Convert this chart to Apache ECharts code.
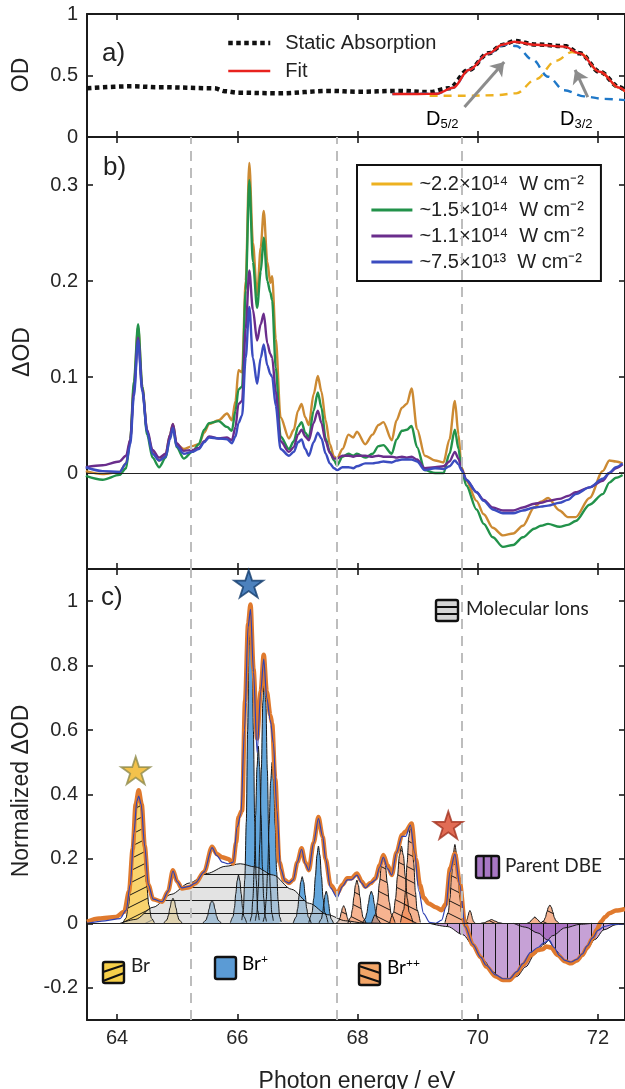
<!DOCTYPE html>
<html>
<head>
<meta charset="utf-8">
<script src="https://cdn.jsdelivr.net/npm/echarts@6/dist/echarts.min.js"></script>
<style>
  html, body { margin: 0; padding: 0; background: #fff; }
  #chart { width: 625px; height: 1089px; }
</style>
</head>
<body>
<div id="chart"></div>
<script>
// ---- axes / ticks ----
const xTicks = [64, 66, 68, 70, 72];
const odTicks = [0, 0.5, 1];
const dodTicks = [0, 0.1, 0.2, 0.3];
const normTicks = [-0.2, 0, 0.2, 0.4, 0.6, 0.8, 1];
const regionEdges = [65.23, 67.66, 69.73];

// ---- panel a: static absorption ----
const staticEnergy = [63.5, 64.24, 64.7, 65.62, 65.79, 66.02, 66.68, 67.54, 68.0, 68.67, 69.19, 69.52, 69.85, 70.18, 70.41, 70.61, 70.97, 71.44, 71.7, 72.03, 72.36, 72.45];
const staticOD = [0.396, 0.412, 0.405, 0.396, 0.372, 0.36, 0.355, 0.375, 0.368, 0.375, 0.365, 0.396, 0.546, 0.68, 0.748, 0.78, 0.752, 0.74, 0.68, 0.53, 0.405, 0.38];
const fitEnergy = [68.58, 69.0, 69.32, 69.59, 69.85, 70.18, 70.41, 70.61, 70.97, 71.44, 71.7, 72.03, 72.36, 72.45];
const fitOD = [0.35, 0.35, 0.352, 0.4, 0.545, 0.68, 0.75, 0.775, 0.75, 0.735, 0.68, 0.53, 0.4, 0.37];
const d52 = [[68.58, 0.35], [69.32, 0.352], [69.59, 0.4], [69.85, 0.545], [70.18, 0.68], [70.45, 0.75], [70.64, 0.74], [70.91, 0.63], [71.17, 0.49], [71.44, 0.38], [71.77, 0.33], [72.1, 0.31], [72.45, 0.3]];
const d32 = [[69.2, 0.335], [69.8, 0.335], [70.3, 0.34], [70.64, 0.355], [70.97, 0.47], [71.3, 0.62], [71.57, 0.69], [71.7, 0.68], [72.03, 0.53], [72.36, 0.4], [72.45, 0.37]];

// ---- panel b: delta OD for four intensities ----
const energyB = [63.48, 63.76, 64.04, 64.15, 64.22, 64.28, 64.35, 64.42, 64.5, 64.59, 64.7, 64.81, 64.88, 64.93, 64.99, 65.11, 65.25, 65.36, 65.45, 65.53, 65.69, 65.83, 65.91, 65.97, 66.02, 66.08, 66.14, 66.2, 66.26, 66.33, 66.39, 66.44, 66.5, 66.55, 66.58, 66.64, 66.72, 66.86, 66.94, 67.01, 67.07, 67.13, 67.19, 67.27, 67.34, 67.4, 67.47, 67.54, 67.61, 67.66, 67.75, 67.85, 67.93, 67.99, 68.13, 68.25, 68.35, 68.43, 68.57, 68.65, 68.74, 68.82, 68.9, 68.99, 69.12, 69.29, 69.43, 69.53, 69.62, 69.68, 69.73, 69.81, 69.98, 70.1, 70.25, 70.42, 70.59, 70.75, 70.94, 71.05, 71.17, 71.36, 71.5, 71.63, 71.86, 72.08, 72.19, 72.3, 72.41];
const dod22 = [0.002, -0.001, 0.001, 0.01, 0.035, 0.09, 0.152, 0.09, 0.044, 0.022, 0.013, 0.02, 0.04, 0.051, 0.03, 0.025, 0.028, 0.03, 0.042, 0.051, 0.055, 0.062, 0.055, 0.075, 0.107, 0.105, 0.2, 0.323, 0.24, 0.185, 0.235, 0.273, 0.22, 0.198, 0.205, 0.14, 0.058, 0.036, 0.045, 0.065, 0.072, 0.058, 0.05, 0.082, 0.101, 0.085, 0.055, 0.03, 0.017, 0.015, 0.025, 0.04, 0.037, 0.043, 0.03, 0.04, 0.05, 0.053, 0.034, 0.055, 0.068, 0.072, 0.088, 0.046, 0.018, 0.013, 0.011, 0.035, 0.075, 0.04, 0.006, -0.008, -0.029, -0.043, -0.057, -0.065, -0.063, -0.055, -0.036, -0.03, -0.026, -0.039, -0.046, -0.046, -0.026, 0.002, 0.013, 0.012, 0.01];
const dod15 = [-0.003, -0.007, -0.002, 0.005, 0.035, 0.095, 0.155, 0.09, 0.04, 0.016, 0.006, 0.016, 0.038, 0.05, 0.027, 0.015, 0.022, 0.03, 0.045, 0.052, 0.054, 0.048, 0.044, 0.065, 0.087, 0.09, 0.19, 0.305, 0.22, 0.172, 0.21, 0.245, 0.2, 0.188, 0.18, 0.11, 0.038, 0.025, 0.033, 0.048, 0.053, 0.042, 0.037, 0.065, 0.084, 0.068, 0.036, 0.022, 0.013, 0.008, 0.017, 0.02, 0.018, 0.02, 0.016, 0.02, 0.028, 0.029, 0.02, 0.035, 0.044, 0.045, 0.049, 0.027, 0.003, 0.0, 0.0, 0.02, 0.045, 0.025, 0.004, -0.013, -0.038, -0.053, -0.067, -0.077, -0.075, -0.067, -0.058, -0.055, -0.053, -0.056, -0.054, -0.05, -0.033, -0.022, -0.01, -0.005, -0.002];
const dod11 = [0.006, 0.008, 0.012, 0.018, 0.035, 0.085, 0.141, 0.087, 0.045, 0.024, 0.016, 0.02, 0.04, 0.051, 0.031, 0.023, 0.024, 0.026, 0.033, 0.038, 0.036, 0.037, 0.034, 0.048, 0.072, 0.075, 0.15, 0.211, 0.17, 0.138, 0.155, 0.166, 0.135, 0.124, 0.12, 0.085, 0.033, 0.022, 0.027, 0.04, 0.045, 0.038, 0.034, 0.052, 0.065, 0.052, 0.033, 0.021, 0.015, 0.015, 0.018, 0.018, 0.017, 0.018, 0.018, 0.017, 0.018, 0.017, 0.017, 0.016, 0.017, 0.016, 0.017, 0.014, 0.005, 0.006, 0.007, 0.012, 0.022, 0.015, 0.004, -0.007, -0.02, -0.028, -0.036, -0.039, -0.039, -0.036, -0.032, -0.031, -0.029, -0.027, -0.024, -0.02, -0.015, -0.008, 0.0, 0.005, 0.009];
const dod75 = [0.006, 0.002, 0.001, 0.01, 0.03, 0.08, 0.138, 0.085, 0.043, 0.02, 0.013, 0.017, 0.035, 0.047, 0.028, 0.02, 0.022, 0.025, 0.032, 0.037, 0.036, 0.035, 0.031, 0.038, 0.052, 0.06, 0.12, 0.173, 0.12, 0.093, 0.12, 0.134, 0.112, 0.103, 0.1, 0.07, 0.025, 0.018, 0.022, 0.032, 0.035, 0.025, 0.018, 0.032, 0.042, 0.036, 0.02, 0.01, 0.005, 0.003, 0.006, 0.006, 0.005, 0.007, 0.01, 0.01, 0.011, 0.012, 0.011, 0.013, 0.014, 0.014, 0.014, 0.012, 0.003, 0.005, 0.004, 0.007, 0.013, 0.009, 0.003, -0.007, -0.02, -0.029, -0.038, -0.042, -0.042, -0.039, -0.036, -0.035, -0.034, -0.031, -0.028, -0.022, -0.015, -0.006, 0.0, 0.006, 0.01];

// ---- panel c: normalized delta OD and fitted components ----
const measuredC = [[63.5, 0.005], [63.7, 0.015], [63.98, 0.02], [64.12, 0.036], [64.2, 0.1], [64.26, 0.23], [64.31, 0.37], [64.36, 0.413], [64.41, 0.37], [64.46, 0.24], [64.52, 0.12], [64.6, 0.075], [64.75, 0.067], [64.85, 0.1], [64.93, 0.165], [65.0, 0.13], [65.08, 0.108], [65.2, 0.112], [65.3, 0.124], [65.45, 0.16], [65.58, 0.238], [65.66, 0.215], [65.75, 0.205], [65.85, 0.2], [65.93, 0.186], [65.98, 0.25], [66.02, 0.33], [66.08, 0.35], [66.13, 0.69], [66.18, 0.93], [66.22, 0.99], [66.27, 0.79], [66.33, 0.574], [66.39, 0.72], [66.44, 0.834], [66.49, 0.72], [66.55, 0.646], [66.58, 0.62], [66.63, 0.45], [66.7, 0.19], [66.78, 0.135], [66.86, 0.125], [66.93, 0.135], [67.0, 0.19], [67.07, 0.233], [67.13, 0.19], [67.19, 0.165], [67.27, 0.25], [67.35, 0.33], [67.42, 0.27], [67.47, 0.2], [67.55, 0.12], [67.66, 0.093], [67.75, 0.12], [67.83, 0.14], [67.9, 0.14], [67.99, 0.155], [68.07, 0.13], [68.13, 0.114], [68.22, 0.125], [68.3, 0.14], [68.37, 0.18], [68.43, 0.212], [68.5, 0.18], [68.57, 0.15], [68.65, 0.22], [68.74, 0.274], [68.8, 0.285], [68.9, 0.31], [68.97, 0.2], [69.04, 0.119], [69.1, 0.08], [69.18, 0.062], [69.3, 0.05], [69.4, 0.041], [69.47, 0.06], [69.54, 0.17], [69.62, 0.217], [69.7, 0.129], [69.79, -0.005], [69.92, -0.067], [70.05, -0.105], [70.14, -0.134], [70.3, -0.165], [70.42, -0.176], [70.53, -0.176], [70.65, -0.155], [70.75, -0.129], [70.88, -0.1], [71.0, -0.083], [71.08, -0.08], [71.14, -0.072], [71.22, -0.075], [71.33, -0.098], [71.45, -0.118], [71.55, -0.124], [71.65, -0.115], [71.74, -0.098], [71.82, -0.075], [71.91, -0.047], [71.98, -0.02], [72.05, 0.005], [72.12, 0.02], [72.19, 0.031], [72.3, 0.04], [72.45, 0.045]];
const fitC = [[63.5, 0.0], [63.8, 0.008], [64.05, 0.015], [64.15, 0.04], [64.22, 0.12], [64.28, 0.28], [64.33, 0.38], [64.36, 0.395], [64.4, 0.37], [64.46, 0.24], [64.52, 0.12], [64.6, 0.075], [64.75, 0.067], [64.85, 0.1], [64.93, 0.162], [65.0, 0.13], [65.08, 0.11], [65.2, 0.115], [65.3, 0.125], [65.45, 0.16], [65.58, 0.235], [65.66, 0.21], [65.75, 0.19], [65.85, 0.185], [65.93, 0.19], [66.0, 0.3], [66.06, 0.34], [66.12, 0.6], [66.18, 0.92], [66.22, 0.975], [66.27, 0.78], [66.33, 0.53], [66.39, 0.72], [66.44, 0.82], [66.49, 0.7], [66.55, 0.63], [66.6, 0.56], [66.66, 0.35], [66.72, 0.17], [66.8, 0.13], [66.86, 0.125], [66.93, 0.135], [67.0, 0.19], [67.07, 0.23], [67.13, 0.185], [67.19, 0.165], [67.27, 0.25], [67.35, 0.325], [67.42, 0.27], [67.47, 0.2], [67.55, 0.11], [67.66, 0.08], [67.75, 0.115], [67.83, 0.135], [67.9, 0.135], [67.99, 0.15], [68.07, 0.125], [68.13, 0.11], [68.22, 0.125], [68.3, 0.135], [68.37, 0.175], [68.43, 0.205], [68.5, 0.17], [68.57, 0.15], [68.65, 0.22], [68.74, 0.27], [68.8, 0.27], [68.88, 0.305], [68.95, 0.22], [69.02, 0.1], [69.1, 0.03], [69.2, 0.003], [69.3, 0.0], [69.4, 0.01], [69.47, 0.05], [69.54, 0.16], [69.62, 0.215], [69.7, 0.12], [69.79, -0.01], [69.92, -0.065], [70.05, -0.105], [70.14, -0.13], [70.3, -0.16], [70.42, -0.172], [70.53, -0.172], [70.65, -0.15], [70.75, -0.125], [70.88, -0.09], [71.0, -0.075], [71.1, -0.06], [71.19, -0.052], [71.27, -0.075], [71.36, -0.1], [71.45, -0.115], [71.55, -0.12], [71.65, -0.112], [71.74, -0.095], [71.82, -0.07], [71.91, -0.045], [72.0, -0.022], [72.1, -0.01], [72.25, -0.003], [72.45, 0]];

const brMain = [[64.1, 0.002], [64.148, 0.016], [64.19, 0.056], [64.232, 0.128], [64.275, 0.244], [64.318, 0.352], [64.36, 0.4], [64.402, 0.352], [64.445, 0.244], [64.488, 0.128], [64.53, 0.056], [64.572, 0.016], [64.62, 0.002]];
const brSmall = [[64.78, 0.001], [64.83, 0.011], [64.855, 0.025], [64.88, 0.048], [64.905, 0.069], [64.93, 0.078], [64.955, 0.069], [64.98, 0.048], [65.005, 0.025], [65.03, 0.011], [65.08, 0.001]];
const brPlusPeaks = [
  [[65.43, 0.001], [65.48, 0.01], [65.505, 0.023], [65.53, 0.044], [65.555, 0.063], [65.58, 0.072], [65.605, 0.063], [65.63, 0.044], [65.655, 0.023], [65.68, 0.01], [65.73, 0.001]],
  [[65.885, 0.002], [65.93, 0.021], [65.953, 0.048], [65.975, 0.092], [65.998, 0.132], [66.02, 0.15], [66.043, 0.132], [66.065, 0.092], [66.088, 0.048], [66.11, 0.021], [66.155, 0.002]],
  [[66.075, 0.01], [66.1, 0.039], [66.125, 0.137], [66.15, 0.314], [66.172, 0.598], [66.196, 0.862], [66.22, 0.98], [66.244, 0.862], [66.268, 0.598], [66.29, 0.314], [66.315, 0.137], [66.34, 0.039], [66.365, 0.01]],
  [[66.215, 0.006], [66.238, 0.022], [66.26, 0.077], [66.283, 0.176], [66.305, 0.336], [66.328, 0.484], [66.35, 0.55], [66.373, 0.484], [66.395, 0.336], [66.418, 0.176], [66.44, 0.077], [66.463, 0.022], [66.485, 0.006]],
  [[66.3, 0.008], [66.325, 0.031], [66.35, 0.109], [66.375, 0.25], [66.4, 0.476], [66.425, 0.686], [66.45, 0.78], [66.475, 0.686], [66.5, 0.476], [66.525, 0.25], [66.55, 0.109], [66.575, 0.031], [66.6, 0.008]],
  [[66.43, 0.005], [66.455, 0.02], [66.48, 0.07], [66.505, 0.16], [66.53, 0.305], [66.555, 0.44], [66.58, 0.5], [66.605, 0.44], [66.63, 0.305], [66.655, 0.16], [66.68, 0.07], [66.705, 0.02], [66.73, 0.005]],
  [[66.93, 0.001], [66.98, 0.02], [67.005, 0.046], [67.03, 0.088], [67.055, 0.128], [67.08, 0.145], [67.105, 0.128], [67.13, 0.088], [67.155, 0.046], [67.18, 0.02], [67.23, 0.001]],
  [[67.19, 0.002], [67.245, 0.034], [67.272, 0.077], [67.3, 0.146], [67.325, 0.211], [67.35, 0.24], [67.375, 0.211], [67.4, 0.146], [67.428, 0.077], [67.455, 0.034], [67.51, 0.002]],
  [[67.36, 0.001], [67.4, 0.014], [67.42, 0.032], [67.44, 0.061], [67.46, 0.088], [67.48, 0.1], [67.5, 0.088], [67.52, 0.061], [67.54, 0.032], [67.56, 0.014], [67.6, 0.001]],
  [[68.08, 0.001], [68.13, 0.014], [68.155, 0.032], [68.18, 0.061], [68.205, 0.088], [68.23, 0.1], [68.255, 0.088], [68.28, 0.061], [68.305, 0.032], [68.33, 0.014], [68.38, 0.001]]
];
const brPlusPlusPeaks = [
  [[67.65, 0.001], [67.69, 0.008], [67.71, 0.018], [67.73, 0.034], [67.75, 0.048], [67.77, 0.055], [67.79, 0.048], [67.81, 0.034], [67.83, 0.018], [67.85, 0.008], [67.89, 0.001]],
  [[67.84, 0.001], [67.89, 0.019], [67.915, 0.043], [67.94, 0.082], [67.965, 0.118], [67.99, 0.134], [68.015, 0.118], [68.04, 0.082], [68.065, 0.043], [68.09, 0.019], [68.14, 0.001]],
  [[68.235, 0.002], [68.3, 0.029], [68.333, 0.066], [68.365, 0.126], [68.398, 0.182], [68.43, 0.207], [68.463, 0.182], [68.495, 0.126], [68.528, 0.066], [68.56, 0.029], [68.625, 0.002]],
  [[68.535, 0.002], [68.6, 0.034], [68.633, 0.077], [68.665, 0.146], [68.698, 0.211], [68.73, 0.24], [68.763, 0.211], [68.795, 0.146], [68.828, 0.077], [68.86, 0.034], [68.925, 0.002]],
  [[68.715, 0.003], [68.77, 0.043], [68.798, 0.098], [68.825, 0.186], [68.853, 0.268], [68.88, 0.305], [68.908, 0.268], [68.935, 0.186], [68.963, 0.098], [68.99, 0.043], [69.045, 0.003]],
  [[69.455, 0.002], [69.51, 0.034], [69.538, 0.078], [69.565, 0.149], [69.593, 0.216], [69.62, 0.245], [69.648, 0.216], [69.675, 0.149], [69.703, 0.078], [69.73, 0.034], [69.785, 0.002]],
  [[69.78, 0.001], [69.81, 0.005], [69.825, 0.013], [69.84, 0.024], [69.855, 0.035], [69.87, 0.04], [69.885, 0.035], [69.9, 0.024], [69.915, 0.013], [69.93, 0.005], [69.96, 0.001]],
  [[70.05, 0], [70.11, 0.002], [70.17, 0.007], [70.23, 0.012], [70.29, 0.007], [70.35, 0.002], [70.41, 0]],
  [[70.82, 0], [70.86, 0.003], [70.905, 0.012], [70.95, 0.02], [70.995, 0.012], [71.04, 0.003], [71.08, 0]],
  [[71.05, 0.001], [71.1, 0.008], [71.125, 0.018], [71.15, 0.035], [71.175, 0.05], [71.2, 0.057], [71.225, 0.05], [71.25, 0.035], [71.275, 0.018], [71.3, 0.008], [71.35, 0.001]]
];
const dbePeaks = [
  [[69.2, 0], [69.5, -0.01], [69.75, -0.035], [69.95, -0.075], [70.1, -0.115], [70.25, -0.15], [70.4, -0.172], [70.5, -0.176], [70.65, -0.165], [70.8, -0.135], [70.95, -0.095], [71.1, -0.065], [71.25, -0.038], [71.45, -0.014], [71.7, -0.003], [71.9, 0]],
  [[70.6, 0], [70.8, -0.012], [71.0, -0.03], [71.17, -0.052], [71.3, -0.085], [71.45, -0.115], [71.55, -0.122], [71.65, -0.115], [71.8, -0.085], [71.95, -0.05], [72.1, -0.02], [72.3, -0.004], [72.45, 0]]
];
const molecularIons = [[64.05, 0], [64.3, 0.012], [64.6, 0.05], [64.9, 0.09], [65.2, 0.125], [65.5, 0.155], [65.8, 0.177], [66.05, 0.185], [66.3, 0.175], [66.6, 0.15], [66.9, 0.106], [67.2, 0.062], [67.5, 0.027], [67.8, 0.008], [68.1, 0.001], [68.4, 0]];
const stars = [[64.31, 0.475], [66.19, 1.054], [69.51, 0.305]];

const FONT = '"Liberation Sans", Arial, Helvetica, sans-serif';
const LATO = 'Lato, "Open Sans", sans-serif';
const AX = '#1b1b1b';

function hatch(bg, dir, gap, off) {
  const cv = document.createElement('canvas');
  let w = gap, h = gap;
  if (dir === 'h') { w = 4; }
  if (dir === 'v') { h = 4; }
  if (dir === 'up' || dir === 'down') { w = gap * 2; }
  cv.width = w; cv.height = h;
  const ctx = cv.getContext('2d');
  ctx.fillStyle = bg;
  ctx.fillRect(0, 0, w, h);
  ctx.strokeStyle = 'rgba(15,15,15,0.95)';
  ctx.lineWidth = 1;
  ctx.beginPath();
  if (dir === 'h') { ctx.moveTo(0, off + 0.5); ctx.lineTo(w, off + 0.5); }
  else if (dir === 'v') { ctx.moveTo(off + 0.5, 0); ctx.lineTo(off + 0.5, h); }
  else {
    for (const dx of [-w, 0, w]) for (const dy of [-h, 0, h]) {
      if (dir === 'up') { ctx.moveTo(dx, h + dy); ctx.lineTo(w + dx, dy); }
      else { ctx.moveTo(dx, dy); ctx.lineTo(w + dx, h + dy); }
    }
  }
  ctx.stroke();
  return { image: cv, repeat: 'repeat' };
}

const fillBr = hatch('rgba(248,200,72,0.8)', 'up', 12);
const fillBrPP = hatch('rgba(240,132,76,0.62)', 'down', 13);
const fillDBE = hatch('rgba(142,68,173,0.5)', 'v', 12, 3);
const fillMol = hatch('rgba(210,210,210,0.62)', 'h', 13, 3);

const pairs = (xs, ys) => xs.map((x, i) => [x, ys[i]]);
const fmt = v => String(+Number(v).toFixed(2));

function xAx(grid, pos, labels) {
  return {
    type: 'value', gridIndex: grid, position: pos, min: 63.5, max: 72.45,
    axisLine: { show: true, onZero: false, lineStyle: { color: AX, width: 2 } },
    axisTick: { show: true, inside: true, length: 6, customValues: xTicks, lineStyle: { color: AX, width: 1.6 } },
    axisLabel: { show: labels, customValues: xTicks, fontSize: 20, color: '#262626', margin: 8, fontFamily: FONT },
    splitLine: { show: false }
  };
}
function yAx(grid, pos, min, max, ticks, labels) {
  return {
    type: 'value', gridIndex: grid, position: pos, min: min, max: max,
    axisLine: { show: true, onZero: false, lineStyle: { color: AX, width: 2 } },
    axisTick: { show: true, inside: true, length: 6, customValues: ticks, lineStyle: { color: AX, width: 1.6 } },
    axisLabel: { show: labels, customValues: ticks, fontSize: 20, color: '#262626', margin: 9, fontFamily: FONT, formatter: fmt },
    splitLine: { show: false }
  };
}

const plain = { type: 'line', symbol: 'none', showSymbol: false, animation: false, silent: true };

function lineA(name, data, style, extra) {
  return Object.assign({}, plain, { name, xAxisIndex: 0, yAxisIndex: 0, data, smooth: 0.35, smoothMonotone: 'x', lineStyle: style }, extra || {});
}
function lineB(name, ys, color) {
  return Object.assign({}, plain, { name, xAxisIndex: 2, yAxisIndex: 2, data: pairs(energyB, ys), smooth: 0.3, smoothMonotone: 'x', color: color, lineStyle: { color: color, width: 2.4 } });
}
function peakC(data, fill, stroke) {
  return Object.assign({}, plain, { xAxisIndex: 4, yAxisIndex: 4, data, smooth: 0.3, smoothMonotone: 'x',
    lineStyle: { color: stroke || '#151515', width: 1 }, areaStyle: { color: fill, opacity: 1 } });
}

const guides = (xi, yi) => Object.assign({}, plain, {
  xAxisIndex: xi, yAxisIndex: yi, data: [],
  markLine: {
    silent: true, symbol: 'none', animation: false, label: { show: false },
    lineStyle: { color: '#bdbdbd', width: 2, type: [10, 7] },
    data: [{ yAxis: 0, lineStyle: { color: '#222', width: 1, type: 'solid' } }].concat(regionEdges.map(v => ({ xAxis: v })))
  }
});

const starPath = 'path://M50,2 L61.2,36.3 L97.6,36.3 L68.2,57.6 L79.4,92 L50,70.8 L20.6,92 L31.8,57.6 L2.4,36.3 L38.8,36.3 Z';

const series = [
  // panel a
  lineA('Static Absorption', pairs(staticEnergy, staticOD), { color: '#111', width: 4.5, type: [4.5, 3.5], cap: 'butt' }, { color: '#111' }),
  lineA('D5/2', d52, { color: '#1f78c8', width: 2.4, type: [8, 6] }),
  lineA('D3/2', d32, { color: '#edb120', width: 2.4, type: [8, 6] }),
  lineA('Fit', pairs(fitEnergy, fitOD), { color: '#e8221e', width: 2.4 }, {
    color: '#e8221e',
    markLine: {
      silent: true, animation: false, symbol: ['none', 'arrow'], symbolSize: 13, label: { show: false },
      lineStyle: { color: '#8c8c8c', width: 3, type: 'solid' },
      data: [
        [{ coord: [69.78, 0.244] }, { coord: [70.44, 0.61] }],
        [{ coord: [71.83, 0.325] }, { coord: [71.62, 0.545] }]
      ]
    }
  }),
  // panel b
  guides(2, 2),
  lineB('~2.2×10¹⁴  W cm⁻²', dod22, '#cc8a33'),
  lineB('~1.5×10¹⁴  W cm⁻²', dod15, '#22924a'),
  lineB('~1.1×10¹⁴  W cm⁻²', dod11, '#6a2d8c'),
  lineB('~7.5×10¹³  W cm⁻²', dod75, '#3b4cc0'),
  // panel c
  guides(4, 4),
  peakC(brSmall, 'rgba(248,200,72,0.7)'),
  peakC(brMain, fillBr)
];
brPlusPeaks.forEach(p => series.push(peakC(p, 'rgba(72,150,214,0.85)')));
brPlusPlusPeaks.forEach(p => series.push(peakC(p, fillBrPP)));
dbePeaks.forEach(p => series.push(peakC(p, fillDBE)));
series.push(peakC(molecularIons, fillMol));
series.push(Object.assign({}, plain, { xAxisIndex: 4, yAxisIndex: 4, data: measuredC, smooth: 0.3, smoothMonotone: 'x', lineStyle: { color: '#e07a2e', width: 4.5 } }));
series.push(Object.assign({}, plain, { xAxisIndex: 4, yAxisIndex: 4, data: fitC, smooth: 0.3, smoothMonotone: 'x', lineStyle: { color: '#2f42b4', width: 1.2 } }));
series.push({
  type: 'scatter', xAxisIndex: 4, yAxisIndex: 4, silent: true, animation: false,
  symbol: starPath, symbolSize: 29, symbolKeepAspect: true,
  data: [
    { value: stars[0], itemStyle: { color: '#f0b31f', borderColor: '#8f8b4c', borderWidth: 1.8 } },
    { value: stars[1], itemStyle: { color: '#1f61ad', borderColor: '#113b6b', borderWidth: 1.8 } },
    { value: stars[2], itemStyle: { color: '#d9472b', borderColor: '#a3321f', borderWidth: 1.8 } }
  ]
});

function txt(x, y, text, size, extra) {
  return Object.assign({
    type: 'text', x: x, y: y, silent: true,
    style: Object.assign({ text: text, font: size + 'px ' + FONT, fill: '#222', textAlign: 'left', textVerticalAlign: 'middle', align: 'left', verticalAlign: 'middle' }, (extra && extra.style) || {})
  }, extra && extra.rotation ? { rotation: extra.rotation } : {});
}
function icon(x, y, w, h, fill, lines) {
  const kids = [{ type: 'rect', shape: { x: x, y: y, width: w, height: h, r: 2 }, style: { fill: fill, stroke: '#111', lineWidth: 2.4 } }];
  lines.forEach(l => kids.push({ type: 'line', shape: { x1: x + l[0], y1: y + l[1], x2: x + l[2], y2: y + l[3] }, style: { stroke: '#111', lineWidth: 2 } }));
  return { type: 'group', silent: true, children: kids };
}
const subRich = {
  m: { fontSize: 20, fontFamily: FONT, color: '#222', lineHeight: 24 },
  s: { fontSize: 13, fontFamily: FONT, color: '#222', verticalAlign: 'bottom', lineHeight: 12 }
};
const supRich = {
  m: { fontSize: 19, fontFamily: LATO, color: '#222', lineHeight: 22 },
  p: { fontSize: 12, fontFamily: LATO, color: '#222', verticalAlign: 'top', lineHeight: 12 }
};
const center = { style: { textAlign: 'center', align: 'center' } };
const vertical = { rotation: Math.PI / 2, style: { textAlign: 'center', align: 'center' } };

const graphic = [
  txt(102, 54, 'a)', 26),
  txt(103, 168, 'b)', 26),
  txt(101, 598, 'c)', 26),
  txt(22, 75, 'OD', 23, vertical),
  txt(23, 352, 'ΔOD', 23, vertical),
  txt(22, 791, 'Normalized ΔOD', 23, vertical),
  txt(357, 1082, 'Photon energy / eV', 23, center),
  { type: 'text', x: 426, y: 119, silent: true, style: { text: '{m|D}{s|5/2}', rich: subRich, textVerticalAlign: 'middle', verticalAlign: 'middle' } },
  { type: 'text', x: 560, y: 119, silent: true, style: { text: '{m|D}{s|3/2}', rich: subRich, textVerticalAlign: 'middle', verticalAlign: 'middle' } },
  icon(436, 600, 22, 21, '#d6d6d6', [[0, 7, 22, 7], [0, 14, 22, 14]]),
  { type: 'text', x: 466, y: 609, silent: true, style: { text: 'Molecular Ions', font: '19px ' + LATO, fill: '#222', textVerticalAlign: 'middle', verticalAlign: 'middle' } },
  icon(476, 856, 23, 22, '#a877c4', [[7.7, 0, 7.7, 22], [15.3, 0, 15.3, 22]]),
  { type: 'text', x: 505, y: 866, silent: true, style: { text: 'Parent DBE', font: '19px ' + LATO, fill: '#222', textVerticalAlign: 'middle', verticalAlign: 'middle' } },
  icon(103, 962, 21, 21, '#f6cf4a', [[0, 10, 21, 3], [0, 19, 21, 11]]),
  { type: 'text', x: 131, y: 966, silent: true, style: { text: 'Br', font: '19px ' + LATO, fill: '#222', textVerticalAlign: 'middle', verticalAlign: 'middle' } },
  icon(215, 957, 21, 22, '#5b9bd5', []),
  { type: 'text', x: 242, y: 964, silent: true, style: { text: '{m|Br}{p|+}', rich: supRich, textVerticalAlign: 'middle', verticalAlign: 'middle' } },
  icon(359, 963, 21, 22, '#f3a567', [[0, 3, 21, 10], [0, 12, 21, 19]]),
  { type: 'text', x: 387, y: 968, silent: true, style: { text: '{m|Br}{p|++}', rich: supRich, textVerticalAlign: 'middle', verticalAlign: 'middle' } }
];

const option = {
  animation: false,
  backgroundColor: '#fff',
  textStyle: { fontFamily: FONT },
  grid: [
    { left: 87, width: 540, top: 14, height: 123 },
    { left: 87, width: 540, top: 137, height: 432 },
    { left: 87, width: 540, top: 569, height: 451 }
  ],
  xAxis: [xAx(0, 'bottom', false), xAx(0, 'top', false), xAx(1, 'bottom', false), xAx(1, 'top', false), xAx(2, 'bottom', true), xAx(2, 'top', false)],
  yAxis: [
    yAx(0, 'left', 0, 1, odTicks, true), yAx(0, 'right', 0, 1, odTicks, false),
    yAx(1, 'left', -0.1, 0.35, dodTicks, true), yAx(1, 'right', -0.1, 0.35, dodTicks, false),
    yAx(2, 'left', -0.3, 1.1, normTicks, true), yAx(2, 'right', -0.3, 1.1, normTicks, false)
  ],
  legend: [
    {
      data: [
        { name: 'Static Absorption', lineStyle: { width: 4.5, type: [4.5, 3.5], color: '#111' } },
        { name: 'Fit', lineStyle: { width: 2.6, color: '#e8221e' } }
      ],
      orient: 'vertical', left: 221, top: 28,
      itemWidth: 42, itemHeight: 16, itemGap: 8, selectedMode: false,
      itemStyle: { opacity: 0 },
      textStyle: { fontSize: 20, color: '#222', fontFamily: FONT, padding: [0, 0, 0, 10] }
    },
    {
      data: [
        { name: '~2.2×10¹⁴  W cm⁻²', lineStyle: { color: '#edb120', width: 2.8 } },
        { name: '~1.5×10¹⁴  W cm⁻²', lineStyle: { width: 2.8 } },
        { name: '~1.1×10¹⁴  W cm⁻²', lineStyle: { width: 2.8 } },
        { name: '~7.5×10¹³  W cm⁻²', lineStyle: { width: 2.8 } }
      ],
      orient: 'vertical', left: 357, top: 165, padding: [9, 17, 9, 13],
      borderColor: '#111', borderWidth: 2, backgroundColor: '#fff',
      itemWidth: 41, itemHeight: 14, itemGap: 6, selectedMode: false,
      itemStyle: { opacity: 0 },
      textStyle: { fontSize: 20, color: '#222', fontFamily: FONT, padding: [0, 0, 0, 2] }
    }
  ],
  series: series,
  graphic: graphic
};

const chart = echarts.init(document.getElementById('chart'), null, { renderer: 'canvas' });
chart.setOption(option);
window.addEventListener('resize', function () { chart.resize(); });
</script>
</body>
</html>
